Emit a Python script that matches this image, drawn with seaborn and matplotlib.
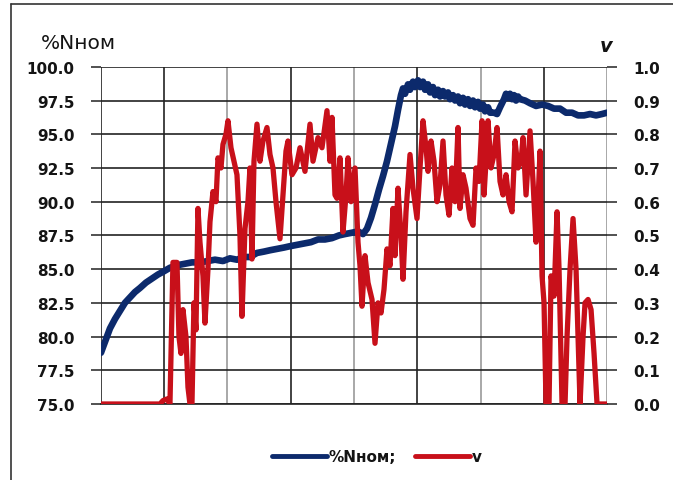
import numpy as np
import pandas as pd
import matplotlib
matplotlib.use("Agg")
import matplotlib.pyplot as plt
from matplotlib.lines import Line2D
import seaborn as sns

# ===== Data (x in time units 0..80) =====
# %Nном, left axis
blue_px = [101, 105, 110, 115, 120, 125, 130, 135, 140, 146, 152, 158, 163, 170, 178,
           185, 192, 200, 208, 215, 223, 230, 237, 244, 250, 257, 264, 270, 277, 284,
           290, 297, 304, 311, 318, 325, 332, 339, 345, 352, 358, 363, 367, 371, 375,
           379, 383, 387, 391, 395, 398, 401, 403, 405, 408, 410, 413, 415, 418, 420,
           423, 425, 428, 430, 433, 435, 438, 440, 443, 445, 448, 450, 453, 455, 458,
           460, 463, 465, 468, 470, 473, 475, 478, 480, 483, 485, 488, 490, 494, 497,
           500, 504, 506, 508, 510, 512, 514, 516, 518, 520, 525, 530, 536, 542, 548,
           554, 560, 566, 572, 578, 584, 590, 596, 602, 607]
blue_val = [78.8, 79.6, 80.6, 81.3, 81.9, 82.5, 82.9, 83.3, 83.6, 84.0, 84.3, 84.6, 84.8, 85.1, 85.3,
            85.4, 85.5, 85.5, 85.6, 85.7, 85.6, 85.8, 85.7, 85.9, 85.9, 86.2, 86.3, 86.4, 86.5, 86.6,
            86.7, 86.8, 86.9, 87.0, 87.2, 87.2, 87.3, 87.5, 87.6, 87.7, 87.8, 87.6, 88.0, 88.8, 89.8,
            90.9, 91.9, 93.0, 94.3, 95.6, 96.8, 97.9, 98.4, 98.0, 98.7, 98.3, 98.9, 98.5, 99.0, 98.5,
            98.9, 98.3, 98.7, 98.1, 98.5, 97.9, 98.3, 97.8, 98.2, 97.8, 98.1, 97.6, 97.9, 97.5, 97.8,
            97.3, 97.7, 97.2, 97.6, 97.1, 97.5, 97.0, 97.4, 96.9, 97.2, 96.7, 97.0, 96.6, 96.6, 96.5,
            97.0, 97.6, 98.0, 97.7, 98.0, 97.6, 97.9, 97.5, 97.8, 97.6, 97.5, 97.3, 97.1, 97.2, 97.1,
            96.9, 96.9, 96.6, 96.6, 96.4, 96.4, 96.5, 96.4, 96.5, 96.6]

# v, right axis
red_px = [101, 160, 163, 167, 170, 173, 177, 179, 181, 183, 186, 188, 190, 192, 194,
          196, 198, 200, 203, 205, 208, 210, 213, 216, 218, 221, 223, 226, 228, 231,
          234, 237, 240, 242, 245, 248, 250, 252, 254, 257, 260, 263, 267, 270, 273,
          276, 280, 283, 286, 288, 292, 296, 300, 305, 310, 313, 318, 322, 327, 330,
          332, 335, 337, 340, 343, 346, 348, 351, 355, 358, 360, 362, 365, 368, 372,
          375, 378, 381, 384, 387, 390, 393, 395, 398, 401, 403, 406, 410, 413, 417,
          420, 423, 426, 428, 431, 434, 437, 440, 443, 446, 449, 452, 455, 458, 460,
          463, 466, 470, 473, 476, 479, 482, 484, 486, 488, 491, 494, 497, 500, 503,
          506, 509, 512, 515, 518, 521, 523, 526, 530, 533, 536, 538, 540, 542, 544,
          546, 549, 551, 554, 557, 559, 562, 565, 567, 570, 573, 576, 580, 583, 585,
          588, 591, 594, 597, 607]
red_val = [0, 0, 0.01, 0.015, 0, 0.42, 0.42, 0.2, 0.15, 0.28, 0.2, 0.05, 0, 0, 0.3,
           0.22, 0.58, 0.48, 0.38, 0.24, 0.4, 0.54, 0.63, 0.6, 0.73, 0.7, 0.77, 0.8, 0.84, 0.76,
           0.72, 0.68, 0.5, 0.26, 0.52, 0.6, 0.7, 0.43, 0.72, 0.83, 0.72, 0.78, 0.82, 0.74, 0.7,
           0.6, 0.49, 0.62, 0.75, 0.78, 0.68, 0.7, 0.76, 0.69, 0.83, 0.72, 0.79, 0.76, 0.87, 0.72,
           0.85, 0.62, 0.61, 0.73, 0.51, 0.62, 0.73, 0.6, 0.7, 0.48, 0.41, 0.29, 0.44, 0.36, 0.31,
           0.18, 0.3, 0.27, 0.34, 0.46, 0.41, 0.58, 0.44, 0.64, 0.5, 0.37, 0.57, 0.74, 0.64, 0.55,
           0.7, 0.84, 0.76, 0.69, 0.78, 0.72, 0.6, 0.65, 0.78, 0.62, 0.56, 0.7, 0.6, 0.82, 0.58,
           0.68, 0.64, 0.55, 0.53, 0.7, 0.66, 0.84, 0.62, 0.72, 0.84, 0.7, 0.74, 0.82, 0.66, 0.62,
           0.68, 0.6, 0.57, 0.78, 0.7, 0.72, 0.79, 0.62, 0.81, 0.66, 0.48, 0.6, 0.75, 0.38, 0.3,
           0, 0, 0.38, 0.32, 0.57, 0.4, 0, 0, 0.2, 0.4, 0.55, 0.4, 0, 0.2, 0.3,
           0.31, 0.28, 0.15, 0, 0]

left_ticks = [75.0, 77.5, 80.0, 82.5, 85.0, 87.5, 90.0, 92.5, 95.0, 97.5, 100.0]
right_ticks = [0.0, 0.1, 0.2, 0.3, 0.4, 0.5, 0.6, 0.7, 0.8, 0.9, 1.0]


def to_t(px):
    # picture column -> time units (plot spans 101..607 px for 0..80)
    return [(p - 101) * 80 / 506 for p in px]


df_n = pd.DataFrame({"t": to_t(blue_px), "N": blue_val})
df_v = pd.DataFrame({"t": to_t(red_px), "v": red_val})

BLUE = "#0c2a6c"
RED = "#c8101a"
INK = "#141414"

# ===== Plot =====
sns.set_theme(style="white")
plt.rcParams["font.family"] = ["DejaVu Sans"]

fig = plt.figure(figsize=(6.73, 4.81), dpi=100)
ax = fig.add_axes([0.150, 0.158, 0.752, 0.701])
ax2 = ax.twinx()

sns.lineplot(data=df_n, x="t", y="N", ax=ax, color=BLUE, linewidth=4.8,
             sort=False, estimator=None)
sns.lineplot(data=df_v, x="t", y="v", ax=ax2, color=RED, linewidth=3.8,
             sort=False, estimator=None)

ax.set_xlim(0, 80)
ax.set_ylim(75, 100)
ax2.set_ylim(0, 1.0)
ax.set_xticks(np.arange(0, 81, 10))
ax.set_xticklabels([])
ax.set_yticks(left_ticks)
ax.set_yticklabels([f"{v:.1f}" for v in left_ticks], fontsize=11, fontweight="bold", color=INK)
ax2.set_yticks(right_ticks)
ax2.set_yticklabels([f"{v:.1f}" for v in right_ticks], fontsize=11, fontweight="bold", color=INK)
ax.set_xlabel("")
ax.set_ylabel("")
ax2.set_ylabel("")

ax.grid(True, axis="both", color="#222222", linewidth=1.2)
for i, gl in enumerate(ax.get_xgridlines()):
    if i in (2, 4, 6, 8):
        gl.set_color("#999999")
ax.tick_params(axis="y", direction="out", length=7, width=1.2, color="#333333",
               pad=12, left=True)
ax.tick_params(axis="x", length=0)
ax2.tick_params(axis="y", direction="out", length=7, width=1.2, color="#333333",
                pad=12, right=True)
for a in (ax, ax2):
    for s in a.spines.values():
        s.set_visible(False)
ax.spines["bottom"].set_visible(True)
ax.spines["bottom"].set_color("#222222")
ax.spines["bottom"].set_linewidth(1.2)

fig.text(0.060, 0.910, "%Nном", fontsize=14.5, ha="left", va="center", color=INK)
fig.text(0.900, 0.903, "v", fontsize=14, fontweight="bold", fontstyle="italic",
         ha="center", va="center", color=INK)

handles = [Line2D([], [], color=BLUE, linewidth=3.5),
           Line2D([], [], color=RED, linewidth=3.5)]
fig.legend(handles, ["%Nном;", "v"], loc="center", bbox_to_anchor=(0.56, 0.048),
           ncol=2, frameon=False, handlelength=3.6, handletextpad=0.1,
           columnspacing=1.2, prop={"size": 11, "weight": "bold"}, labelcolor=INK)

# outer frame (left and top edges are visible in the picture)
fig.add_artist(Line2D([0.017, 0.017], [0.0, 0.99], transform=fig.transFigure,
                      color="#333333", linewidth=1.2))
fig.add_artist(Line2D([0.017, 1.0], [0.99, 0.99], transform=fig.transFigure,
                      color="#333333", linewidth=1.2))

fig.savefig("out.png", dpi=100)
